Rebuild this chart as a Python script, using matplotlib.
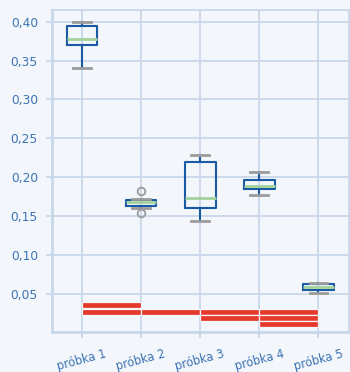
import matplotlib
matplotlib.use("Agg")
import matplotlib.pyplot as plt
from matplotlib.ticker import FuncFormatter

# Sample labels
samples = ["próbka 1", "próbka 2", "próbka 3", "próbka 4", "próbka 5"]

# Box statistics per sample
whis_low = [0.341, 0.160, 0.144, 0.177, 0.051]
q1 = [0.370, 0.163, 0.160, 0.185, 0.055]
median = [0.378, 0.168, 0.173, 0.189, 0.059]
q3 = [0.395, 0.171, 0.220, 0.196, 0.062]
whis_high = [0.399, 0.172, 0.229, 0.206, 0.064]
outliers = [[], [0.182, 0.154], [], [], []]

# Red interval bands: starting sample index (1-based) and level
band_start = [1, 1, 2, 3, 3, 4, 4, 4]
band_level = [0.035, 0.027, 0.027, 0.027, 0.019, 0.027, 0.019, 0.011]

bg = "#f3f6fa"
grid_c = "#c8d8eb"
text_c = "#3d74b6"
box_c = "#1a5aa5"
med_c = "#a3d39b"
cap_c = "#9b9b9b"
red_c = "#e5392b"

fig = plt.figure(figsize=(3.5, 3.72), dpi=100, facecolor=bg)
ax = fig.add_axes([0.148, 0.108, 0.848, 0.865], facecolor=bg)

stats = []
for i in range(len(samples)):
    stats.append(dict(label=samples[i], whislo=whis_low[i], q1=q1[i],
                      med=median[i], q3=q3[i], whishi=whis_high[i],
                      fliers=outliers[i]))

positions = list(range(1, len(samples) + 1))
ax.bxp(stats, positions=positions, widths=0.52, showfliers=True,
       boxprops=dict(color=box_c, linewidth=1.5),
       medianprops=dict(color=med_c, linewidth=2.0),
       whiskerprops=dict(color=box_c, linewidth=1.5),
       capprops=dict(color=cap_c, linewidth=2.0),
       capwidths=0.3,
       flierprops=dict(marker="o", markerfacecolor="none",
                       markeredgecolor=cap_c, markersize=5.5,
                       markeredgewidth=1.3),
       zorder=3)

ax.barh(band_level, [1] * len(band_start), left=band_start, height=0.0078,
        color=red_c, edgecolor=bg, linewidth=0.9, align="center", zorder=4)

ax.set_xlim(0.49, 5.51)
ax.set_ylim(0.001, 0.415)
ax.set_yticks([0.05, 0.10, 0.15, 0.20, 0.25, 0.30, 0.35, 0.40])
ax.yaxis.set_major_formatter(FuncFormatter(lambda v, p: f"{v:.2f}".replace(".", ",")))
ax.set_xticks(positions)
ax.set_xticklabels(samples, rotation=15, ha="center")

ax.grid(True, color=grid_c, linewidth=1.3, zorder=0)
ax.set_axisbelow(True)
for s in ax.spines.values():
    s.set_color(grid_c)
    s.set_linewidth(1.3)
ax.spines["bottom"].set_linewidth(2)
ax.spines["left"].set_linewidth(2)
ax.tick_params(colors=grid_c, length=4, width=1.3, labelcolor=text_c,
               labelsize=8.3)
ax.tick_params(axis="x", pad=7)
ax.tick_params(axis="y", pad=6, labelsize=8.8)
for lab in ax.get_xticklabels() + ax.get_yticklabels():
    lab.set_fontfamily("DejaVu Sans")

fig.savefig("out.png", dpi=100, facecolor=bg)
